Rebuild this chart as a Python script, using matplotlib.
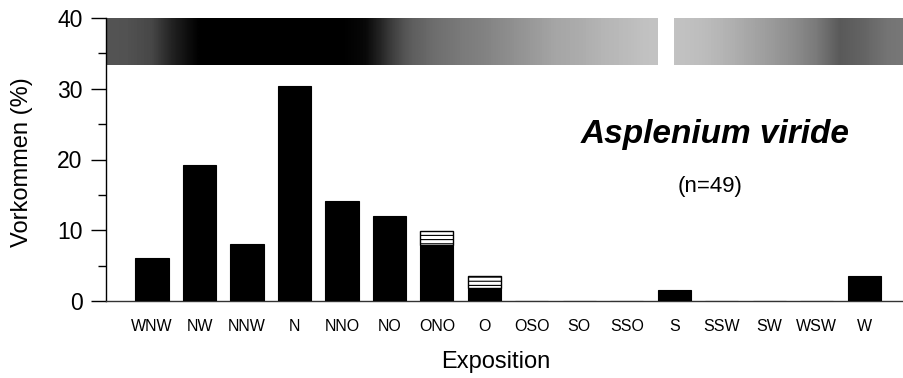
import numpy as np
import matplotlib
matplotlib.use("Agg")
import matplotlib.pyplot as plt
from matplotlib.ticker import MultipleLocator

plt.rcParams['font.family'] = ['Liberation Sans', 'DejaVu Sans']
plt.rcParams['hatch.linewidth'] = 0.8

categories = ['WNW', 'NW', 'NNW', 'N', 'NNO', 'NO', 'ONO', 'O',
              'OSO', 'SO', 'SSO', 'S', 'SSW', 'SW', 'WSW', 'W']
# solid (black) part of each bar, in %
solid = [6.1, 19.2, 8.1, 30.4, 14.1, 12.0, 7.9, 1.8,
         0, 0, 0, 1.55, 0, 0, 0, 3.6]
# upper hatched part of each bar, in %
hatched = [0, 0, 0, 0, 0, 0, 2.0, 1.8,
           0, 0, 0, 0, 0, 0, 0, 0]
# shading band darkness at positions -1, -0.5, 0, ..., 16 (category index units)
band_darkness = [0.74, 0.75, 0.78, 0.90, 1.0, 1.0, 1.0, 1.0, 1.0, 1.0, 1.0,
                 0.97, 0.82, 0.70, 0.64, 0.60, 0.57, 0.53, 0.49, 0.45, 0.43,
                 0.40, 0.38, 0.35, 0.35, 0.37, 0.40, 0.44, 0.48, 0.53, 0.60,
                 0.72, 0.68, 0.62, 0.60]
band_range = (33.4, 40)
gap_range = (10.66, 11.0)

fig = plt.figure(figsize=(9.04, 3.78), dpi=100)
ax = fig.add_axes([106/904, 77/378, 798/904, 283/378])

x = np.arange(len(categories))
ax.bar(x, solid, width=0.70, color='black', edgecolor='black', linewidth=0.8, zorder=3)
mask = np.array(hatched) > 0
ax.bar(x[mask], np.array(hatched)[mask], bottom=np.array(solid)[mask], width=0.70,
       color='white', edgecolor='black', hatch='----', linewidth=1.0, zorder=3)

# shading band
arr = np.array(band_darkness)[None, :]
ax.imshow(arr, cmap='Greys', vmin=0, vmax=1, aspect='auto', interpolation='bilinear',
          extent=(-1.25, 16.25, band_range[0], band_range[1]), zorder=1)
ax.fill_between(gap_range, band_range[0], band_range[1], color='white', zorder=2, linewidth=0)

ax.set_xlim(-0.97, 15.84)
ax.set_ylim(0, 40)

ax.set_xticks(x)
ax.set_xticklabels(categories, fontsize=11.5)
ax.tick_params(axis='x', length=0, pad=13)
ax.yaxis.set_major_locator(MultipleLocator(10))
ax.yaxis.set_minor_locator(MultipleLocator(5))
ax.tick_params(axis='y', which='major', length=11, width=1, pad=6, labelsize=16.5)
ax.tick_params(axis='y', which='minor', length=6, width=1)

for s in ['top', 'right']:
    ax.spines[s].set_visible(False)
ax.spines['left'].set_linewidth(1)
ax.spines['bottom'].set_linewidth(1)
ax.spines['bottom'].set_color('#333333')

ax.set_xlabel('Exposition', fontsize=17)
ax.xaxis.label.set_va('center')
ax.xaxis.set_label_coords(0.489, -0.2155)
ax.set_ylabel('Vorkommen (%)', fontsize=17)
ax.yaxis.label.set_va('center')
ax.yaxis.set_label_coords(-0.105, 0.491)

ax.text(0.763, 0.558, 'Asplenium viride', transform=ax.transAxes, ha='center',
        va='baseline', fontsize=24, fontweight='bold', fontstyle='italic')
ax.text(0.757, 0.386, '(n=49)', transform=ax.transAxes, ha='center',
        va='baseline', fontsize=16)

fig.savefig('out.png', dpi=100)
